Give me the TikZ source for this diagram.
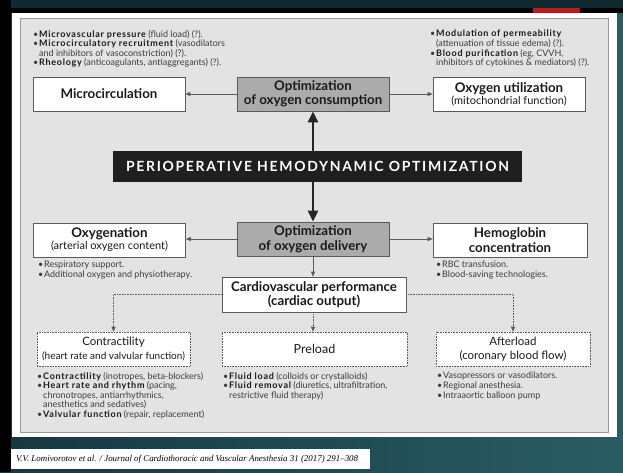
\documentclass[tikz,border=0pt]{standalone}
\usepackage{fontspec}
\setmainfont{Lato}
\newfontfamily\citefont{Liberation Serif}
\usetikzlibrary{arrows.meta,positioning}
\definecolor{teal0}{HTML}{1B4654}
\definecolor{teal1}{HTML}{2A5C64}
\definecolor{panelgray}{HTML}{E3E3E3}
\definecolor{boxgray}{HTML}{ABABAB}
\definecolor{edge}{HTML}{5A5A5A}
\definecolor{txt}{HTML}{1A1A1A}
\definecolor{soft}{HTML}{3C3C3C}
\definecolor{accent}{HTML}{B01E1E}
\newcommand{\bul}{\makebox[6pt][l]{\textbullet}}
\newcommand{\ind}{\hspace*{6pt}}
\newcommand{\bb}[1]{{\color{txt}\bfseries\addfontfeatures{LetterSpace=8}#1}}
\tikzset{
  whitebox/.style={draw=edge, line width=0.7pt, fill=white, minimum width=152pt, minimum height=34pt, align=center, inner sep=1pt, text=txt},
  graybox/.style={draw=edge, line width=0.7pt, fill=boxgray, minimum width=152pt, minimum height=34pt, align=center, inner sep=1pt, text=txt, font=\fontsize{13.3}{14.5}\selectfont\bfseries},
  dotbox/.style={draw=edge, densely dotted, line width=0.6pt, fill=white, minimum width=153pt, minimum height=34pt, align=center, inner sep=1pt, text=txt, font=\fontsize{11.5}{14}\selectfont},
  titlebox/.style={fill=black!88, text=white, minimum width=409pt, minimum height=31pt, font=\fontsize{14}{16}\selectfont\bfseries\addfontfeatures{LetterSpace=12}},
  bullets/.style={anchor=north west, align=left, inner sep=0pt, text=soft, font=\fontsize{9}{9.6}\selectfont},
  thinarrow/.style={draw=edge, line width=0.7pt, -{Triangle[length=5pt,width=4pt]}},
  thickarrow/.style={draw=black!85, line width=2.2pt, -{Triangle[length=11pt,width=10pt]}},
  dotarrow/.style={draw=edge, densely dotted, line width=0.6pt, -{Triangle[length=5pt,width=4pt]}},
  bigbold/.style={font=\fontsize{13.3}{14.5}\selectfont\bfseries},
}
\begin{document}
\begin{tikzpicture}[x=1pt,y=-1pt]
% background
\shade[left color=teal0!80!black, right color=teal1] (0,0) rectangle (623,472);
\fill[teal0!60!black] (0,0) rectangle (623,8);
\fill[black] (0,8) rectangle (623,13);
\fill[black] (0,0) rectangle (11,472);
\fill[accent] (533,8) rectangle (580,13);
\fill[white] (12,13) rectangle (617,437);
\filldraw[fill=panelgray, draw=black!40, line width=0.6pt] (20,18) rectangle (608,432);
\node[fill=white, minimum width=359pt, minimum height=20pt, inner sep=0pt] (cite) at (190.5,459) {};
\node[anchor=west, inner sep=0pt, font=\citefont\itshape\fontsize{8.9}{10}\selectfont] (citetext) at (16,459) {V.V. Lomivorotov et al. / Journal of Cardiothoracic and Vascular Anesthesia 31 (2017) 291–308};

% top row
\node[whitebox, bigbold] (micro) at (109,94) {Microcirculation};
\node[graybox] (cons) at (313,94) {Optimization\\of oxygen consumption};
\node[whitebox] (util) at (509,94) {{\fontsize{13.3}{14.5}\selectfont\bfseries Oxygen utilization}\\{\fontsize{11}{12}\selectfont (mitochondrial function)}};

\node[bullets] (tlb) at (33,30) {\bul\bb{Microvascular pressure} (fluid load) (?).\\
\bul\bb{Microcirculatory recruitment} (vasodilators\\
\ind and inhibitors of vasoconstriction) (?).\\
\bul\bb{Rheology} (anticoagulants, antiaggregants) (?).};
\node[bullets] (trb) at (430,30) {\bul\bb{Modulation of permeability}\\
\ind(attenuation of tissue edema) (?).\\
\bul\bb{Blood purification} (eg, CVVH,\\
\ind inhibitors of cytokines \& mediators) (?).};

% title
\node[titlebox] (title) at (317.5,166.5) {PERIOPERATIVE HEMODYNAMIC OPTIMIZATION};

% middle row
\node[graybox] (deliv) at (313,239) {Optimization\\of oxygen delivery};
\node[whitebox] (oxy) at (109.5,240) {{\fontsize{13.3}{14.5}\selectfont\bfseries Oxygenation}\\{\fontsize{11}{12}\selectfont (arterial oxygen content)}};
\node[whitebox, minimum width=154pt, bigbold] (hemo) at (510,240) {Hemoglobin\\concentration};
\node[bullets] (oxyb) at (38,261) {\bul Respiratory support.\\\bul Additional oxygen and physiotherapy.};
\node[bullets] (hemob) at (436,261) {\bul RBC transfusion.\\\bul Blood-saving technologies.};

\node[whitebox, minimum width=184pt, minimum height=35pt, bigbold] (cardio) at (314,294.5) {Cardiovascular performance\\(cardiac output)};

% bottom row
\node[dotbox] (contr) at (113.5,349) {Contractility\\{\fontsize{10}{12}\selectfont(heart rate and valvular function)}};
\node[dotbox, minimum width=185pt, font=\fontsize{12.5}{14}\selectfont] (pre) at (314.5,349) {Preload};
\node[dotbox, minimum width=154pt] (after) at (513,349) {Afterload\\(coronary blood flow)};

\node[bullets] (contrb) at (37,372) {\bul\bb{Contractility} (inotropes, beta-blockers)\\
\bul\bb{Heart rate and rhythm} (pacing,\\
\ind chronotropes, antiarrhythmics,\\
\ind anesthetics and sedatives)\\
\bul\bb{Valvular function} (repair, replacement)};
\node[bullets] (preb) at (223,372) {\bul\bb{Fluid load} (colloids or crystalloids)\\
\bul\bb{Fluid removal} (diuretics, ultrafiltration,\\
\ind restrictive fluid therapy)};
\node[bullets] (afterb) at (437,372) {\bul Vasopressors or vasodilators.\\
\bul Regional anesthesia.\\
\bul Intraaortic balloon pump};

% connectors
\draw[thickarrow] (title.north -| cons.south) -- (cons.south);
\draw[thickarrow] (title.south -| deliv.north) -- (deliv.north);
\draw[thinarrow] (cons.west) -- (micro.east);
\draw[thinarrow] (cons.east) -- (util.west);
\draw[thinarrow] (deliv.west) -- (oxy.east |- deliv.west);
\draw[thinarrow] (deliv.east) -- (hemo.west |- deliv.east);
\draw[thinarrow] (deliv.south) -- (cardio.north -| deliv.south);
\draw[dotarrow] (cardio.west) -| (contr.north);
\draw[dotarrow] (cardio.east) -| (after.north);
\draw[dotarrow] (cardio.south -| deliv.south) -- (pre.north -| deliv.south);
\useasboundingbox (0,0) rectangle (623,472);
\end{tikzpicture}
\end{document}
